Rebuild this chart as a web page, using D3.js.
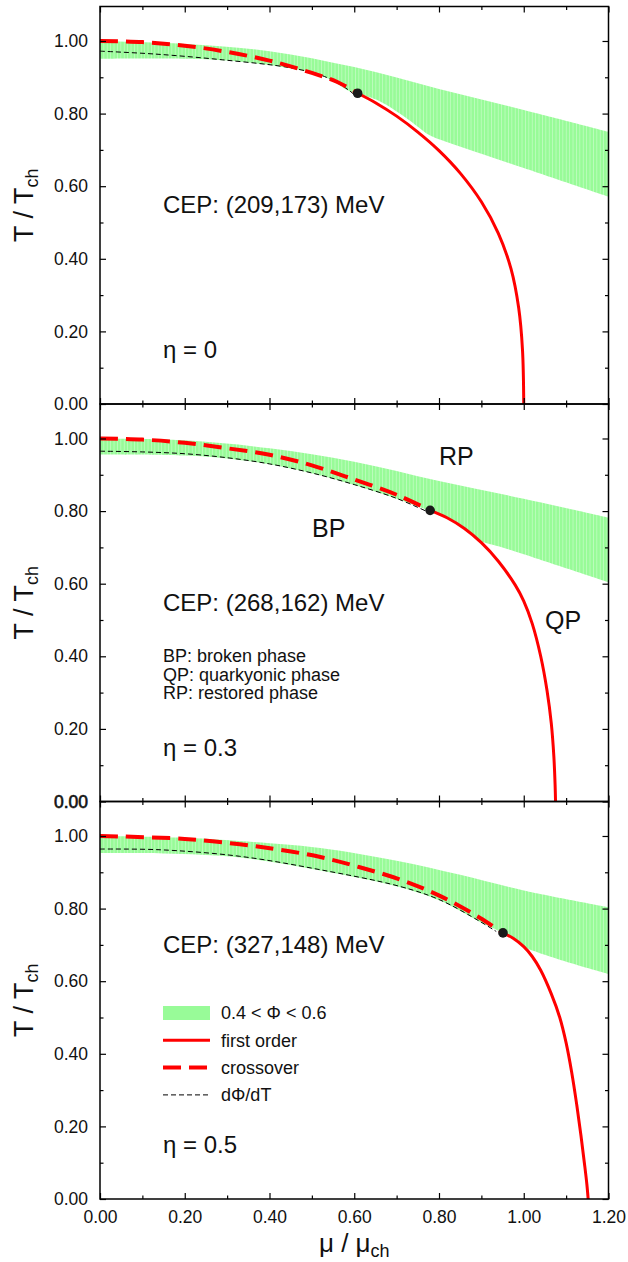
<!DOCTYPE html>
<html>
<head>
<meta charset="utf-8">
<script src="https://cdn.jsdelivr.net/npm/d3@7"></script>
<style>
  body { margin: 0; background: #fff; }
  svg text { font-family: "Liberation Sans", Arial, Helvetica, sans-serif; fill: #111; }
</style>
</head>
<body>
<svg id="chart" width="628" height="1262"></svg>
<script>
// ---- data (mu / mu_ch , T / T_ch) ----
var MU_MAJOR = [0, 0.2, 0.4, 0.6, 0.8, 1.0, 1.2];
var MU_MINOR = [0.1, 0.3, 0.5, 0.7, 0.9, 1.1];
var T_MAJOR = [0, 0.2, 0.4, 0.6, 0.8, 1.0];
var T_MINOR = [0.1, 0.3, 0.5, 0.7, 0.9];

var ETA_LABELS = ["η = 0", "η = 0.3", "η = 0.5"];
var CEP_LABELS = ["CEP: (209,173) MeV", "CEP: (268,162) MeV", "CEP: (327,148) MeV"];
var CEP_POINTS = [[0.608, 0.856], [0.779, 0.802], [0.951, 0.733]];

// eta = 0
var band0Upper = [[0, 1.0], [0.2, 0.992], [0.4, 0.972], [0.6, 0.928], [0.8, 0.868], [1.0, 0.81], [1.2, 0.75]];
var band0Lower = [[0, 0.951], [0.2, 0.951], [0.3, 0.946], [0.45, 0.925], [0.53, 0.901], [0.59, 0.861], [0.608, 0.855],
  [0.66, 0.834], [0.72, 0.790], [0.75, 0.764], [0.778, 0.740], [0.82, 0.721], [1.0, 0.65], [1.2, 0.571]];
var cross0 = [[0, 1.0], [0.1, 0.997], [0.2, 0.987], [0.3, 0.970], [0.4, 0.946], [0.5, 0.912], [0.56, 0.887], [0.608, 0.856]];
var dphi0 = [[0, 0.972], [0.13, 0.964], [0.29, 0.948], [0.45, 0.926], [0.53, 0.902], [0.59, 0.862], [0.603, 0.848]];
var first0 = [[0.608, 0.856], [0.65, 0.830], [0.70, 0.793], [0.75, 0.749], [0.80, 0.698], [0.85, 0.636], [0.90, 0.557],
  [0.94, 0.470], [0.97, 0.372], [0.988, 0.265], [0.997, 0.15], [1.0, 0.0]];

// eta = 0.3
var band1Upper = [[0, 1.0], [0.2, 0.995], [0.4, 0.973], [0.6, 0.936], [0.8, 0.883], [1.0, 0.834], [1.2, 0.782]];
var band1Lower = [[0, 0.956], [0.2, 0.953], [0.3, 0.945], [0.4, 0.929], [0.5, 0.904], [0.6, 0.872], [0.7, 0.834],
  [0.779, 0.800], [0.82, 0.781], [0.86, 0.752], [0.89, 0.722], [0.95, 0.70], [1.0, 0.681], [1.2, 0.604]];
var cross1 = [[0, 1.0], [0.1, 0.997], [0.2, 0.988], [0.3, 0.973], [0.4, 0.955], [0.5, 0.926], [0.6, 0.887], [0.7, 0.845], [0.779, 0.802]];
var dphi1 = [[0, 0.965], [0.1, 0.963], [0.2, 0.958], [0.3, 0.947], [0.4, 0.93], [0.5, 0.905], [0.6, 0.873], [0.7, 0.835], [0.775, 0.797]];
var first1 = [[0.779, 0.802], [0.82, 0.781], [0.86, 0.752], [0.90, 0.713], [0.94, 0.662], [0.98, 0.596], [1.0, 0.552],
  [1.02, 0.49], [1.04, 0.40], [1.055, 0.305], [1.065, 0.215], [1.071, 0.125], [1.074, 0.045], [1.075, 0.0]];

// eta = 0.5
var band2Upper = [[0, 1.0], [0.2, 0.995], [0.4, 0.98], [0.52, 0.967], [0.7, 0.932], [0.85, 0.893], [1.0, 0.85], [1.2, 0.804]];
var band2Lower = [[0, 0.953], [0.15, 0.952], [0.33, 0.941], [0.52, 0.905], [0.708, 0.859], [0.802, 0.822], [0.896, 0.764],
  [0.951, 0.733], [0.975, 0.718], [1.0, 0.695], [1.2, 0.62]];
var cross2 = [[0, 1.0], [0.2, 0.992], [0.33, 0.977], [0.425, 0.962], [0.52, 0.942], [0.613, 0.914], [0.708, 0.88],
  [0.802, 0.835], [0.896, 0.775], [0.951, 0.733]];
var dphi2 = [[0, 0.964], [0.142, 0.962], [0.33, 0.944], [0.52, 0.907], [0.708, 0.861], [0.802, 0.824], [0.896, 0.765], [0.935, 0.737]];
var first2 = [[0.951, 0.733], [0.975, 0.718], [1.0, 0.695], [1.02, 0.668], [1.04, 0.63], [1.065, 0.565], [1.085, 0.50],
  [1.10, 0.43], [1.113, 0.35], [1.125, 0.26], [1.135, 0.175], [1.143, 0.10], [1.149, 0.04], [1.152, 0.0]];

var PANELS = [
  { band: [band0Upper, band0Lower], cross: cross0, dphi: dphi0, first: first0 },
  { band: [band1Upper, band1Lower], cross: cross1, dphi: dphi1, first: first1 },
  { band: [band2Upper, band2Lower], cross: cross2, dphi: dphi2, first: first2 }
];

var PHASE_NAMES = ["BP", "RP", "QP"];
var PHASE_KEY = ["BP: broken phase", "QP: quarkyonic phase", "RP: restored phase"];
var LEGEND_ITEMS = ["0.4 < Φ < 0.6", "first order", "crossover", "dΦ/dT"];

(function() {
  var LEFT = 100, W = 508.5, H = 397.5;
  var TOPS = [6.5, 404, 801.5];
  var T_MAX = 1.095;
  var GREEN = "#98fb98", RED = "#ff0000";
  var fmt = d3.format(".2f");

  var svg = d3.select("#chart");

  // {{{ stripe pattern for the band
  var defs = svg.append("defs");
  var pat = defs.append("pattern")
    .attr("id", "stripes")
    .attr("patternUnits", "userSpaceOnUse")
    .attr("width", 3.4).attr("height", 10);
  pat.append("rect").attr("width", 3.4).attr("height", 10).attr("fill", GREEN);
  pat.append("rect").attr("width", 0.7).attr("height", 10).attr("fill", "#fff").attr("opacity", 0.45);
  // }}}

  function styleTicks(sel, labelSize) {
    sel.select(".domain").remove();
    sel.selectAll(".tick line").attr("stroke", "#000").attr("stroke-width", 1.2);
    sel.selectAll(".tick text")
      .attr("font-size", labelSize || 17.5)
      .attr("font-family", null)
      .style("fill", "#111");
  }

  function drawPanel(i) {
    var p = PANELS[i];
    var g = svg.append("g").attr("transform", "translate(" + LEFT + "," + TOPS[i] + ")");
    var x = d3.scaleLinear().domain([0, 1.2]).range([0, W]);
    var y = d3.scaleLinear().domain([0, T_MAX]).range([H, 0]);

    defs.append("clipPath").attr("id", "clip" + i)
      .append("rect").attr("width", W).attr("height", H);

    var line = d3.line()
      .x(function(d) { return x(d[0]); })
      .y(function(d) { return y(d[1]); })
      .curve(d3.curveCatmullRom.alpha(0.5));

    var plot = g.append("g").attr("clip-path", "url(#clip" + i + ")");

    // band 0.4 < Phi < 0.6
    var lowerRev = p.band[1].slice().reverse();
    var bandPath = line(p.band[0]) + "L" + line(lowerRev).slice(1) + "Z";
    plot.append("path").attr("d", bandPath).attr("fill", "url(#stripes)");

    // dPhi/dT
    plot.append("path").attr("d", line(p.dphi))
      .attr("fill", "none").attr("stroke", "#000").attr("stroke-width", 1)
      .attr("stroke-dasharray", "5,3");
    // crossover
    plot.append("path").attr("d", line(p.cross))
      .attr("fill", "none").attr("stroke", RED).attr("stroke-width", 4)
      .attr("stroke-dasharray", "18,8");
    // first order
    plot.append("path").attr("d", line(p.first))
      .attr("fill", "none").attr("stroke", RED).attr("stroke-width", 3);
    // CEP
    plot.append("circle")
      .attr("cx", x(CEP_POINTS[i][0])).attr("cy", y(CEP_POINTS[i][1]))
      .attr("r", 4.8).attr("fill", "#1a1a1a");

    // frame
    g.append("rect").attr("width", W).attr("height", H)
      .attr("fill", "none").attr("stroke", "#000").attr("stroke-width", 1.5);

    // ticks, all pointing inwards
    var isLast = (i === PANELS.length - 1);
    g.append("g").attr("transform", "translate(0," + H + ")")
      .call(d3.axisBottom(x).tickValues(MU_MAJOR).tickSize(-6).tickSizeOuter(0).tickPadding(12)
        .tickFormat(isLast ? fmt : function() { return ""; }))
      .call(styleTicks);
    g.append("g").attr("transform", "translate(0," + H + ")")
      .call(d3.axisBottom(x).tickValues(MU_MINOR).tickSize(-3.5).tickSizeOuter(0).tickFormat(""))
      .call(styleTicks);
    g.append("g")
      .call(d3.axisTop(x).tickValues(MU_MAJOR).tickSize(-6).tickSizeOuter(0).tickFormat(""))
      .call(styleTicks);
    g.append("g")
      .call(d3.axisTop(x).tickValues(MU_MINOR).tickSize(-3.5).tickSizeOuter(0).tickFormat(""))
      .call(styleTicks);

    var left = g.append("g")
      .call(d3.axisLeft(y).tickValues(T_MAJOR).tickSize(-6).tickSizeOuter(0).tickPadding(12).tickFormat(fmt))
      .call(styleTicks);
    if (i === 1) {
      // this 0.00 is printed twice in the original and looks heavier
      left.selectAll(".tick text").filter(function(d) { return d === 0; })
        .style("stroke", "#111").style("stroke-width", 0.6);
    }
    g.append("g")
      .call(d3.axisLeft(y).tickValues(T_MINOR).tickSize(-3.5).tickSizeOuter(0).tickFormat(""))
      .call(styleTicks);
    g.append("g").attr("transform", "translate(" + W + ",0)")
      .call(d3.axisRight(y).tickValues(T_MAJOR).tickSize(-6).tickSizeOuter(0).tickFormat(""))
      .call(styleTicks);
    g.append("g").attr("transform", "translate(" + W + ",0)")
      .call(d3.axisRight(y).tickValues(T_MINOR).tickSize(-3.5).tickSizeOuter(0).tickFormat(""))
      .call(styleTicks);

    // y title T / T_ch
    var yt = svg.append("text")
      .attr("transform", "translate(33," + (TOPS[i] + H / 2) + ") rotate(-90)")
      .attr("text-anchor", "middle")
      .attr("font-size", 27);
    yt.append("tspan").text("T / T");
    yt.append("tspan").attr("font-size", 18).attr("dy", "0.3em").text("ch");

    return g;
  }

  var panels = [0, 1, 2].map(drawPanel);

  // {{{ annotations (pixel offsets inside each panel)
  var cepY = [206.5, 207, 151.5];
  var etaY = [351.5, 352, 351.5];
  panels.forEach(function(g, i) {
    g.append("text").attr("x", 63).attr("y", cepY[i]).attr("font-size", 24).text(CEP_LABELS[i]);
    g.append("text").attr("x", 63).attr("y", etaY[i]).attr("font-size", 24).text(ETA_LABELS[i]);
  });

  var mid = panels[1];
  var phasePos = [[212, 133], [339, 61], [445, 225]];
  PHASE_NAMES.forEach(function(name, k) {
    mid.append("text").attr("x", phasePos[k][0]).attr("y", phasePos[k][1])
      .attr("font-size", 25).text(name);
  });
  PHASE_KEY.forEach(function(txt, k) {
    mid.append("text").attr("x", 63).attr("y", 258 + k * 18.5)
      .attr("font-size", 18).text(txt);
  });
  // }}}

  // {{{ legend in the bottom panel
  var leg = panels[2].append("g").attr("transform", "translate(63,211.5)");
  LEGEND_ITEMS.forEach(function(label, k) {
    var row = leg.append("g").attr("transform", "translate(0," + (k * 27.3) + ")");
    if (k === 0) {
      row.append("rect").attr("x", 0).attr("y", -7).attr("width", 47).attr("height", 14).attr("fill", GREEN);
    } else {
      row.append("line").attr("x1", 0).attr("x2", 47).attr("y1", 0).attr("y2", 0)
        .attr("stroke", k === 3 ? "#000" : RED)
        .attr("stroke-width", k === 1 ? 3 : (k === 2 ? 4 : 1))
        .attr("stroke-dasharray", k === 2 ? "18,8" : (k === 3 ? "5,3" : null));
    }
    row.append("text").attr("x", 58).attr("y", 0).attr("dy", "0.35em")
      .attr("font-size", 18).text(label);
  });
  // }}}

  // x title
  var xt = svg.append("text")
    .attr("x", LEFT + W / 2).attr("y", 1252)
    .attr("text-anchor", "middle")
    .attr("font-size", 26);
  xt.append("tspan").text("μ / μ");
  xt.append("tspan").attr("font-size", 18).attr("dy", "0.3em").text("ch");
})();
</script>
</body>
</html>
